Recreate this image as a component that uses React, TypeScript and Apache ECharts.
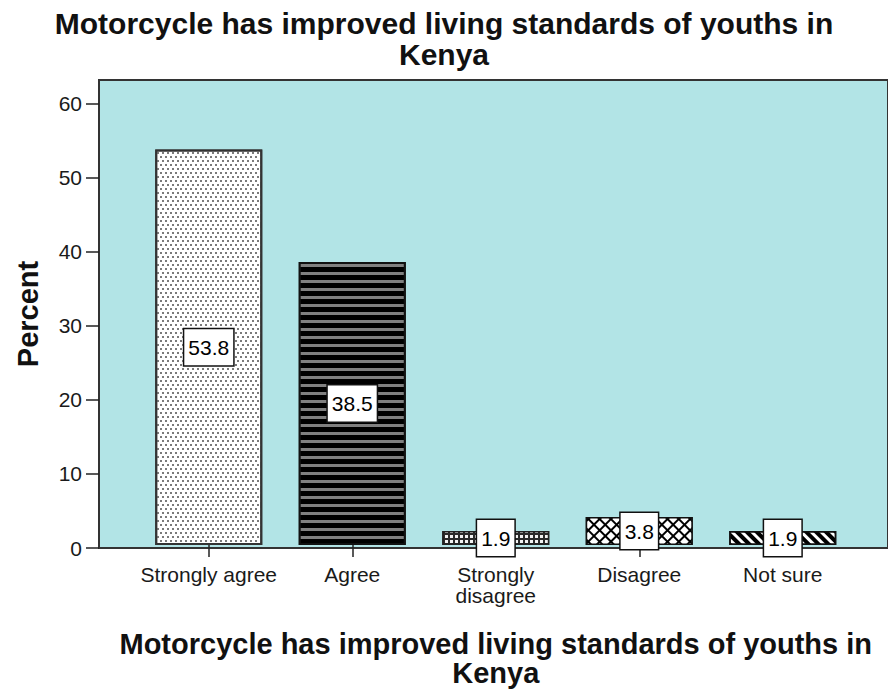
import React, { useEffect, useRef } from "react";
import * as echarts from "echarts";

const categories = ["Strongly agree", "Agree", "Strongly\ndisagree", "Disagree", "Not sure"];
const percents = [53.8, 38.5, 1.9, 3.8, 1.9];
const yTickValues = [0, 10, 20, 30, 40, 50, 60];
const titleLines = ["Motorcycle has improved living standards of youths in", "Kenya"];
const xName = "Motorcycle has improved living standards of youths in\nKenya";
const yName = "Percent";

const FONT = "'Liberation Sans', Arial, sans-serif";
const Y_MAX = 63.24;

const barStyles = [
  {
    color: "#ffffff",
    borderColor: "#333333",
    borderWidth: 2,
    decal: {
      symbol: "rect",
      symbolSize: 1,
      color: "#7a7a7a",
      dashArrayX: [[1.5, 2.5], [0, 2, 1.5, 0.5]],
      dashArrayY: [2, 2],
    },
  },
  {
    color: "#000000",
    borderColor: "#111111",
    borderWidth: 2,
    decal: {
      symbol: "rect",
      symbolSize: 1,
      color: "#808080",
      dashArrayX: [[1, 0]],
      dashArrayY: [3, 5],
    },
  },
  {
    color: "#2a2a2a",
    borderColor: "#222222",
    borderWidth: 1.5,
    decal: {
      symbol: "rect",
      symbolSize: 1,
      color: "#f2f2f2",
      dashArrayX: [[2.5, 1.5]],
      dashArrayY: [2.5, 1.5],
    },
  },
  {
    color: "#000000",
    borderColor: "#111111",
    borderWidth: 1.5,
    decal: {
      symbol: "rect",
      symbolSize: 1,
      color: "#ffffff",
      dashArrayX: [[6, 2]],
      dashArrayY: [6, 2],
      rotation: Math.PI / 4,
    },
  },
  {
    color: "#ffffff",
    borderColor: "#111111",
    borderWidth: 1.5,
    decal: {
      symbol: "rect",
      symbolSize: 1,
      color: "#000000",
      dashArrayX: [[1, 0]],
      dashArrayY: [4, 2.5],
      rotation: Math.PI / 4,
    },
  },
];

const titleTextStyle = {
  fontFamily: FONT,
  fontSize: 30,
  fontWeight: "bold",
  color: "#111111",
  lineHeight: 30,
};

export default function App() {
  const ref = useRef<HTMLDivElement>(null);

  useEffect(() => {
    if (!ref.current) return;
    const chart = echarts.init(ref.current, undefined, { renderer: "svg" });
    chart.setOption({
      animation: false,
      backgroundColor: "#ffffff",
      title: titleLines.map((t, i) => ({
        text: t,
        left: "center",
        top: 8 + i * 31,
        padding: 0,
        textStyle: titleTextStyle,
      })),
      grid: [
        {
          left: 99,
          top: 80,
          width: 793,
          height: 468,
          show: true,
          backgroundColor: "#b2e4e6",
          borderColor: "#333333",
          borderWidth: 2,
        },
        {
          left: 137,
          top: 80,
          width: 717.5,
          height: 468,
        },
      ],
      xAxis: [
        { type: "value", gridIndex: 0, show: false, min: 0, max: 1 },
        {
          type: "category",
          gridIndex: 1,
          data: categories,
          axisLine: { show: false },
          axisTick: {
            show: true,
            alignWithLabel: true,
            length: 12,
            lineStyle: { color: "#222222", width: 1.5 },
          },
          axisLabel: {
            fontFamily: FONT,
            fontSize: 21,
            lineHeight: 21,
            color: "#1a1a1a",
            margin: 19,
            interval: 0,
          },
          name: xName,
          nameLocation: "middle",
          nameGap: 84,
          nameTextStyle: {
            fontFamily: FONT,
            fontSize: 29,
            fontWeight: "bold",
            color: "#111111",
            lineHeight: 29,
          },
        },
      ],
      yAxis: [
        {
          type: "value",
          gridIndex: 0,
          min: 0,
          max: Y_MAX,
          interval: 10,
          splitLine: { show: false },
          axisLine: { show: true, lineStyle: { color: "#333333", width: 2 } },
          axisTick: {
            show: true,
            length: 13,
            customValues: yTickValues,
            lineStyle: { color: "#222222", width: 1.5 },
          },
          axisLabel: {
            customValues: yTickValues,
            fontFamily: FONT,
            fontSize: 21,
            color: "#1a1a1a",
            margin: 17,
          },
          name: yName,
          nameLocation: "middle",
          nameRotate: 90,
          nameGap: 57,
          nameTextStyle: {
            fontFamily: FONT,
            fontSize: 29,
            fontWeight: "bold",
            color: "#111111",
          },
        },
        { type: "value", gridIndex: 1, show: false, min: 0, max: Y_MAX },
      ],
      series: [
        {
          type: "bar",
          xAxisIndex: 1,
          yAxisIndex: 1,
          barCategoryGap: "25.4%",
          data: percents.map((v, i) => ({ value: v, itemStyle: barStyles[i] })),
          label: {
            show: true,
            position: "inside",
            formatter: (p: any) => Number(p.value).toFixed(1),
            fontFamily: FONT,
            fontSize: 21,
            lineHeight: 24,
            color: "#000000",
            backgroundColor: "#ffffff",
            borderColor: "#111111",
            borderWidth: 1.5,
            padding: [6, 4],
          },
        },
      ],
    });
    return () => chart.dispose();
  }, []);

  return (
    <div
      ref={ref}
      style={{ position: "fixed", left: 0, top: 0, width: 888, height: 692 }}
    />
  );
}
